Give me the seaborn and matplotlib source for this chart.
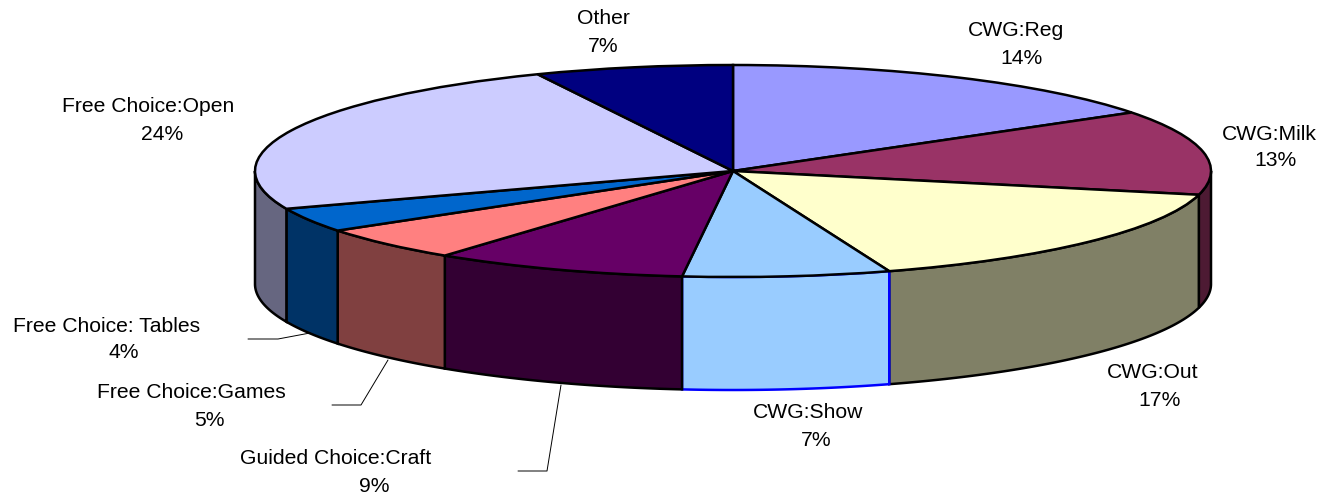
import matplotlib
matplotlib.use("Agg")
import matplotlib.pyplot as plt
from matplotlib.lines import Line2D
import numpy as np
import seaborn as sns

categories = ["CWG:Reg", "CWG:Milk", "CWG:Out", "CWG:Show", "Guided Choice:Craft",
              "Free Choice:Games", "Free Choice: Tables", "Free Choice:Open", "Other"]
# slice sizes as drawn in the picture, the printed labels are below
shares = [15.7, 12.9, 16.1, 7.0, 8.6, 5.2, 3.7, 24.1, 6.7]
pct_labels = ["14%", "13%", "17%", "7%", "9%", "5%", "4%", "24%", "7%"]
colors = ["#9999FF", "#993366", "#FFFFCC", "#99CCFF", "#660066",
          "#FF8080", "#0066CC", "#CCCCFF", "#000080"]

W, H = 1338, 497
CX, CY = 733, 171
RX, RY = 478, 106
DEPTH = 113 / RY

name_pos = [(1016, 30), (1269, 134), (1153, 372), (808, 413), (336, 459),
            (191, 393), (107, 326), (148, 106), (603, 19)]
pct_pos = [(1022, 58), (1275, 160), (1160, 400), (816, 441), (374, 486),
           (209, 421), (124, 353), (162, 134), (603, 47)]
leaders = [[(248, 339), (278, 339), (310, 333)],
           [(332, 405), (361, 405), (388, 360)],
           [(518, 471), (547, 471), (561, 385)]]

sns.set_theme(style="white")
plt.rcParams["font.family"] = ["Liberation Sans", "DejaVu Sans"]
palette = sns.color_palette(colors)

fig = plt.figure(figsize=(W / 100, H / 100), dpi=100)
ax = fig.add_axes([0, 0, 1, 1])

# top of the pie, squashed to an ellipse by the axis limits
ax.pie(shares, colors=palette, startangle=90, counterclock=False, radius=1,
       wedgeprops={"edgecolor": "black", "linewidth": 1.8})
ax.set_aspect("auto")
ax.set_xlim(-CX / RX, (W - CX) / RX)
ax.set_ylim((CY - H) / RY, CY / RY)

# side walls on the front half
ends = np.cumsum(shares) / np.sum(shares) * 360
starts = np.r_[0, ends[:-1]]
for name, a0, a1, col in zip(categories, starts, ends, palette):
    a0 = max(a0, 90)
    a1 = min(a1, 270)
    if a1 <= a0:
        continue
    t = np.radians(np.linspace(a0, a1, 80))
    x = np.sin(t)
    y = np.cos(t)
    if name == "CWG:Show":
        face, edge = col, "#0000FF"
    else:
        face, edge = tuple(c * 0.5 for c in col), "black"
    ax.fill(np.r_[x, x[::-1]], np.r_[y, y[::-1] - DEPTH], facecolor=face,
            edgecolor=edge, linewidth=1.8, zorder=0.5)


def to_fig(px, py):
    return px / W, 1 - py / H


for name, pct, p1, p2 in zip(categories, pct_labels, name_pos, pct_pos):
    fig.text(*to_fig(*p1), name, fontsize=15.2, color="black", ha="center", va="center")
    fig.text(*to_fig(*p2), pct, fontsize=15.2, color="black", ha="center", va="center")

for pts in leaders:
    xs, ys = zip(*[to_fig(*p) for p in pts])
    fig.add_artist(Line2D(xs, ys, color="black", linewidth=0.7))

fig.savefig("out.png", dpi=100)
plt.close(fig)
